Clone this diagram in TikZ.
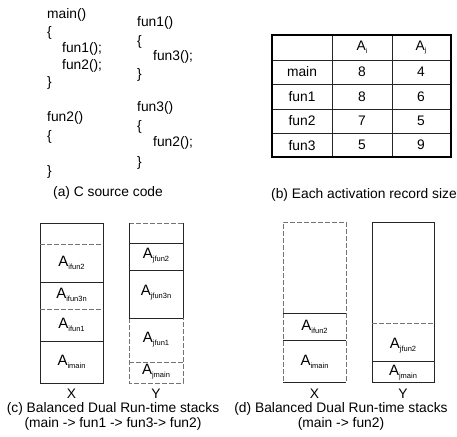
\documentclass[tikz,border=0pt]{standalone}
\usepackage{fontspec}
\setmainfont{Liberation Sans}
\usetikzlibrary{positioning}
\newcommand{\Asub}[1]{A\raisebox{-3pt}{\fontsize{7.5}{8}\selectfont #1}}

\begin{document}
\begin{tikzpicture}[x=1pt,y=-1pt,
  code/.style={anchor=west,inner sep=0pt,font=\fontsize{13.8}{16}\selectfont},
  capt/.style={inner sep=0pt,font=\fontsize{13.8}{16}\selectfont},
  tval/.style={inner sep=0pt,font=\fontsize{13.8}{16}\selectfont},
  rec/.style={inner sep=0pt,font=\fontsize{15}{16}\selectfont},
  wall/.style={draw=black!85,line width=0.7pt},
  faint/.style={draw=black!55,line width=0.6pt,dash pattern=on 5pt off 2pt}]
  \useasboundingbox (0,0) rectangle (457,436);
  % (a) source code
  \node[code] (m0) at (47,15) {main()};
  \node[code] (m1) at (47,33) {\{};
  \node[code] (m2) at (62,49) {fun1();};
  \node[code] (m3) at (62,66) {fun2();};
  \node[code] (m4) at (47,83) {\}};
  \node[code] (f20) at (47,118) {fun2()};
  \node[code] (f21) at (47,137) {\{};
  \node[code] (f22) at (47,172) {\}};
  \node[code] (f10) at (137,23) {fun1()};
  \node[code] (f11) at (137,42) {\{};
  \node[code] (f12) at (153,57) {fun3();};
  \node[code] (f13) at (137,75) {\}};
  \node[code] (f30) at (137,108) {fun3()};
  \node[code] (f31) at (137,127) {\{};
  \node[code] (f32) at (153,143) {fun2();};
  \node[code] (f33) at (137,163) {\}};
  \node[capt] (capa) at (108,193) {(a) C source code};
  % (b) record size table
  \foreach \yy in {60,84.5,109,133} \draw[black!85,line width=0.6pt] (272,\yy) -- (451,\yy);
  \foreach \xx in {332,392} \draw[black!85,line width=0.6pt] (\xx,35) -- (\xx,157);
  \draw[line width=1.3pt] (272,35) rectangle (451,157);
  \node[tval] (hi) at (362,47.5) {A\raisebox{-2.5pt}{\fontsize{7}{8}\selectfont i}};
  \node[tval] (hj) at (421,47.5) {A\raisebox{-2.5pt}{\fontsize{7}{8}\selectfont j}};
  \foreach \nm/\vi/\vj [count=\r] in {main/8/4,fun1/8/6,fun2/7/5,fun3/5/9} {
    \node[tval] (n\r) at (302,{47.5+24.4*\r}) {\nm};
    \node[tval] (i\r) at (362,{47.5+24.4*\r}) {\vi};
    \node[tval] (j\r) at (421,{47.5+24.4*\r}) {\vj};
  }
  \node[capt] (capb) at (364,195) {(b) Each activation record size};
  % (c) main -> fun1 -> fun3 -> fun2
  \draw[wall] (40,223) rectangle (103,383);
  \draw[faint] (40,244) -- (103,244);
  \draw[wall] (40,282) -- (103,282);
  \draw[faint] (40,309) -- (103,309);
  \draw[wall] (40,341) -- (103,341);
  \node[rec] (cx4) at (71.5,263) {\Asub{ifun2}};
  \node[rec] (cx3) at (71.5,295) {\Asub{ifun3n}};
  \node[rec] (cx2) at (71.5,325) {\Asub{ifun1}};
  \node[rec] (cx1) at (71.5,362) {\Asub{imain}};
  \draw[faint] (129,223) -- (183,223);
  \draw[wall] (129,223) -- (129,318);
  \draw[faint] (129,318) -- (129,383) -- (183,383) -- (183,318);
  \draw[wall] (183,223) -- (183,318);
  \draw[wall] (129,243) -- (183,243);
  \draw[wall] (129,270) -- (183,270);
  \draw[wall] (129,318) -- (183,318);
  \draw[faint] (129,362) -- (183,362);
  \node[rec] (cy4) at (156,256) {\Asub{jfun2}};
  \node[rec] (cy3) at (156,293) {\Asub{jfun3n}};
  \node[rec] (cy2) at (156,340) {\Asub{jfun1}};
  \node[rec] (cy1) at (156,372) {\Asub{jmain}};
  \node[capt] (cxl) at (71.5,394) {X};
  \node[capt] (cyl) at (156,394) {Y};
  \node[capt] (capc1) at (113,409) {(c) Balanced Dual Run-time stacks};
  \node[capt] (capc2) at (113,424) {(main -> fun1 -> fun3-> fun2)};
  % (d) main -> fun2
  \draw[faint] (283,313) -- (283,222) -- (346,222) -- (346,313);
  \draw[faint] (283,313) -- (283,382);
  \draw[faint] (346,313) -- (346,382);
  \draw[wall] (283,313) -- (346,313);
  \draw[wall] (283,340) -- (346,340);
  \draw[wall] (283,382) -- (346,382);
  \node[rec] (dx2) at (314.5,327) {\Asub{ifun2}};
  \node[rec] (dx1) at (314.5,362) {\Asub{imain}};
  \draw[wall] (372,222) rectangle (434,382);
  \draw[faint] (372,323) -- (434,323);
  \draw[wall] (372,361) -- (434,361);
  \node[rec] (dy2) at (403,346) {\Asub{jfun2}};
  \node[rec] (dy1) at (403,373) {\Asub{jmain}};
  \node[capt] (dxl) at (314.5,394) {X};
  \node[capt] (dyl) at (403,394) {Y};
  \node[capt] (capd1) at (341,409) {(d) Balanced Dual Run-time stacks};
  \node[capt] (capd2) at (341,424) {(main -> fun2)};
\end{tikzpicture}
\end{document}
